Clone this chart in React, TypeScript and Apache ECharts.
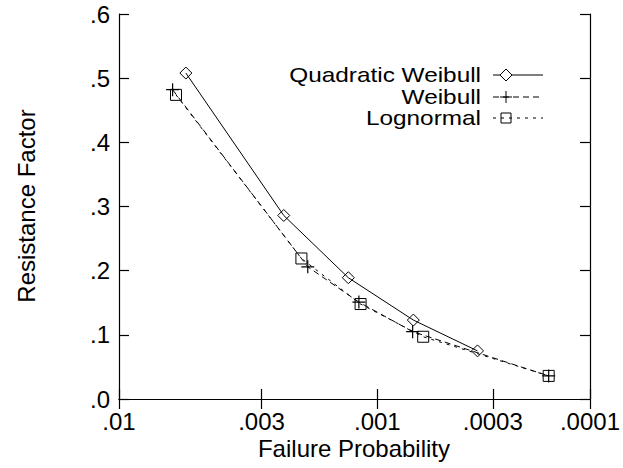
import { useEffect, useRef } from 'react';
import * as echarts from 'echarts';

// Failure-probability tick marks (axis is drawn in reliability-index / normal-probability scale)
const xTickProbabilities = [0.01, 0.003, 0.001, 0.0003, 0.0001];
const xTickLabels = ['.01', '.003', '.001', '.0003', '.0001'];
const yTickValues = [0, 0.1, 0.2, 0.3, 0.4, 0.5, 0.6];
const yTickLabels = ['.0', '.1', '.2', '.3', '.4', '.5', '.6'];

const seriesNames = ['Quadratic Weibull', 'Weibull', 'Lognormal'];

const quadWeibullPf = [0.0058, 0.00245, 0.00133, 0.000695, 0.000354];
const quadWeibullPhi = [0.508, 0.286, 0.189, 0.123, 0.075];

const weibullPf = [0.00648, 0.00196, 0.0012, 0.0007, 0.000161];
const weibullPhi = [0.482, 0.206, 0.151, 0.105, 0.036];

const lognormalPf = [0.0063, 0.00208, 0.00118, 0.000628, 0.000161];
const lognormalPhi = [0.474, 0.219, 0.148, 0.097, 0.036];

// inverse standard normal CDF (Acklam)
function probit(p: number): number {
  const a = [-3.969683028665376e1, 2.209460984245205e2, -2.759285104469687e2, 1.38357751867269e2, -3.066479806614716e1, 2.506628277459239];
  const b = [-5.447609879822406e1, 1.615858368580409e2, -1.556989798598866e2, 6.680131188771972e1, -1.328068155288572e1];
  const c = [-7.784894002430293e-3, -3.223964580411365e-1, -2.400758277161838, -2.549732940343734, 4.374664141464968, 2.938163982698783];
  const d = [7.784695709041462e-3, 3.224671290700398e-1, 2.445134137142996, 3.754408661907416];
  const plow = 0.02425;
  if (p < plow) {
    const q = Math.sqrt(-2 * Math.log(p));
    return (((((c[0] * q + c[1]) * q + c[2]) * q + c[3]) * q + c[4]) * q + c[5]) /
      ((((d[0] * q + d[1]) * q + d[2]) * q + d[3]) * q + 1);
  }
  if (p > 1 - plow) return -probit(1 - p);
  const q = p - 0.5;
  const r = q * q;
  return (((((a[0] * r + a[1]) * r + a[2]) * r + a[3]) * r + a[4]) * r + a[5]) * q /
    (((((b[0] * r + b[1]) * r + b[2]) * r + b[3]) * r + b[4]) * r + 1);
}
const beta = (pf: number) => -probit(pf);

const FONT = 'Liberation Sans, Arial, Helvetica, sans-serif';
const FS = 24;
const LFS = 21;

export default function App() {
  const ref = useRef<HTMLDivElement>(null);
  useEffect(() => {
    if (!ref.current) return;
    const chart = echarts.init(ref.current, null, { renderer: 'svg' });
    const xTicks = xTickProbabilities.map(beta);
    const xMin = xTicks[0];
    const xMax = xTicks[xTicks.length - 1];
    const xFormatter = (v: number) => {
      let best = 0;
      xTicks.forEach((t, i) => { if (Math.abs(t - v) < Math.abs(xTicks[best] - v)) best = i; });
      return xTickLabels[best];
    };
    const yFormatter = (v: number) => {
      let best = 0;
      yTickValues.forEach((t, i) => { if (Math.abs(t - v) < Math.abs(yTickValues[best] - v)) best = i; });
      return yTickLabels[best];
    };
    const pairs = (pf: number[], phi: number[]) => pf.map((p, i) => [beta(p), phi[i]]);

    const axisLine = { show: true, lineStyle: { color: '#000', width: 1.2 } };
    const xAxisCommon = {
      type: 'value', min: xMin, max: xMax,
      axisLine, splitLine: { show: false },
      axisTick: { show: true, inside: true, length: 10, customValues: xTicks, lineStyle: { color: '#000', width: 1.2 } },
    };
    const yAxisCommon = {
      type: 'value', min: 0, max: 0.6, interval: 0.1,
      axisLine, splitLine: { show: false },
      axisTick: { show: true, inside: true, length: 10, lineStyle: { color: '#000', width: 1.2 } },
    };

    const lx = 481, lsx1 = 493, lsx2 = 543, lmx = 506;
    const rows = [75, 97, 118];
    const dashes: any[] = [null, [6, 4], [3, 5]];
    const graphic: any[] = [];
    rows.forEach((y, i) => {
      graphic.push({ type: 'text', x: lx, y, scaleX: 1.16, style: { text: seriesNames[i], font: `${LFS}px ${FONT}`, fill: '#000', align: 'right', verticalAlign: 'middle' } });
      graphic.push({ type: 'line', shape: { x1: lsx1, y1: y, x2: lsx2, y2: y }, style: { stroke: '#000', lineWidth: 1, lineDash: dashes[i] || undefined } });
    });
    graphic.push({ type: 'polygon', shape: { points: [[lmx, rows[0] - 6], [lmx + 6, rows[0]], [lmx, rows[0] + 6], [lmx - 6, rows[0]]] }, style: { fill: '#fff', stroke: '#000', lineWidth: 1 } });
    graphic.push({ type: 'line', shape: { x1: lmx - 6, y1: rows[1], x2: lmx + 6, y2: rows[1] }, style: { stroke: '#000', lineWidth: 1 } });
    graphic.push({ type: 'line', shape: { x1: lmx, y1: rows[1] - 6, x2: lmx, y2: rows[1] + 6 }, style: { stroke: '#000', lineWidth: 1 } });
    graphic.push({ type: 'rect', shape: { x: lmx - 5, y: rows[2] - 5, width: 10, height: 10 }, style: { fill: 'none', stroke: '#000', lineWidth: 1 } });
    graphic.push({ type: 'text', x: 354, y: 448, style: { text: 'Failure Probability', font: `${FS}px ${FONT}`, fill: '#000', align: 'center', verticalAlign: 'middle' } });
    graphic.push({ type: 'text', x: 26, y: 206, rotation: Math.PI / 2, style: { text: 'Resistance Factor', font: `${FS}px ${FONT}`, fill: '#000', align: 'center', verticalAlign: 'middle' } });

    chart.setOption({
      animation: false,
      backgroundColor: '#fff',
      grid: { left: 119, right: 33, top: 14, bottom: 69, containLabel: false },
      xAxis: [
        { ...xAxisCommon, position: 'bottom',
          axisLabel: { show: true, customValues: xTicks, formatter: xFormatter, color: '#000', fontSize: FS, fontFamily: FONT, margin: 10 } },
        { ...xAxisCommon, position: 'top', axisLabel: { show: false } },
      ],
      yAxis: [
        { ...yAxisCommon, position: 'left',
          axisLabel: { show: true, formatter: yFormatter, color: '#000', fontSize: FS, fontFamily: FONT, margin: 9 } },
        { ...yAxisCommon, position: 'right', axisLabel: { show: false } },
      ],
      graphic,
      series: [
        {
          name: seriesNames[0], type: 'line', data: pairs(quadWeibullPf, quadWeibullPhi),
          symbol: 'diamond', symbolSize: 12, showAllSymbol: true,
          lineStyle: { color: '#000', width: 1, type: 'solid' },
          itemStyle: { color: 'rgba(0,0,0,0)', borderColor: '#000', borderWidth: 1 },
        },
        {
          name: seriesNames[1], type: 'line', data: pairs(weibullPf, weibullPhi),
          symbol: 'path://M0,5L10,5M5,0L5,10', symbolSize: 13, showAllSymbol: true,
          lineStyle: { color: '#000', width: 1, type: [6, 4] },
          itemStyle: { color: 'rgba(0,0,0,0)', borderColor: '#000', borderWidth: 1.2 },
        },
        {
          name: seriesNames[2], type: 'line', data: pairs(lognormalPf, lognormalPhi),
          symbol: 'rect', symbolSize: 11, showAllSymbol: true,
          lineStyle: { color: '#000', width: 1, type: [3, 5] },
          itemStyle: { color: 'rgba(0,0,0,0)', borderColor: '#000', borderWidth: 1 },
        },
      ],
    });
    return () => chart.dispose();
  }, []);
  return <div ref={ref} style={{ position: 'fixed', left: 0, top: 0, width: 623, height: 468, background: '#fff' }} />;
}
